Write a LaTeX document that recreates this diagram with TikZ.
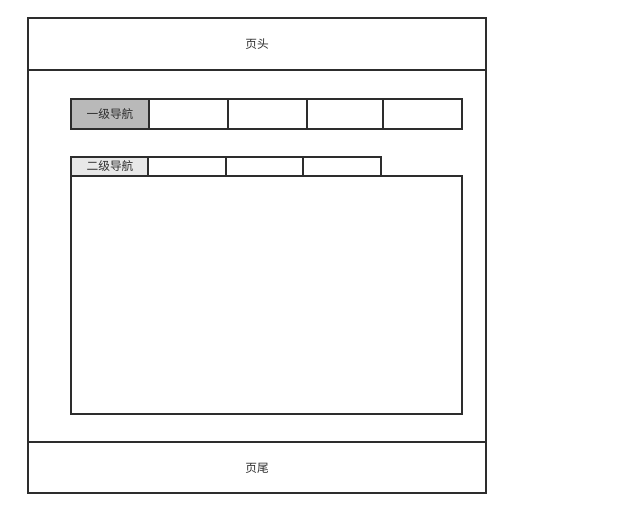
\documentclass[tikz,border=0pt]{standalone}
\usepackage{fontspec}
\newfontfamily\cjk{Noto Sans CJK SC}
\definecolor{linegray}{RGB}{45,45,45}
\definecolor{navdark}{RGB}{185,185,185}
\definecolor{navlight}{RGB}{232,232,232}
\tikzset{
  frame/.style = {draw=linegray, line width=1.4pt},
  label/.style = {font=\cjk\fontsize{10}{12}\selectfont, text=linegray, inner sep=0pt}
}
\begin{document}
\begin{tikzpicture}[x=0.03cm, y=-0.03cm]
\useasboundingbox (0,0) rectangle (643,512);
% page frame
\draw[frame] (28,18) rectangle (486,493);
\draw[frame] (28,70) -- (486,70);
\draw[frame] (28,442) -- (486,442);
\node[label] (header) at (257,44) {页头};
\node[label] (footer) at (257,468) {页尾};
% first level navigation
\draw[frame, fill=navdark] (71,99) rectangle (149,129);
\draw[frame] (149,99) rectangle (228,129);
\draw[frame] (228,99) rectangle (307,129);
\draw[frame] (307,99) rectangle (383,129);
\draw[frame] (383,99) rectangle (462,129);
\node[label] (nav1) at (110,114) {一级导航};
% second level navigation
\draw[frame, fill=navlight] (71,157) rectangle (148,176);
\draw[frame] (148,157) rectangle (226,176);
\draw[frame] (226,157) rectangle (303,176);
\draw[frame] (303,157) rectangle (381,176);
\node[label] (nav2) at (110,166.5) {二级导航};
% content area
\draw[frame] (71,176) rectangle (462,414);
\end{tikzpicture}
\end{document}
